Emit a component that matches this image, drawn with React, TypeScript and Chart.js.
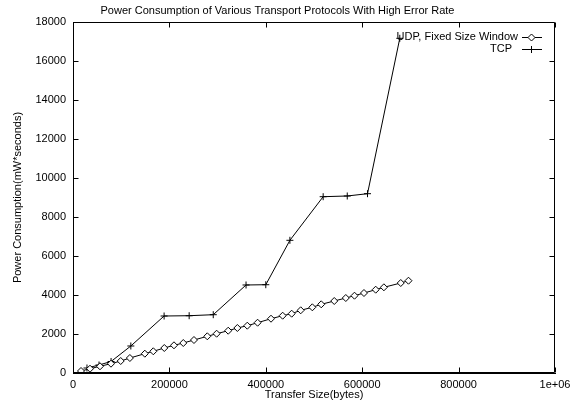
import React, { useEffect, useRef } from "react";
import { Chart, registerables } from "chart.js";

Chart.register(...registerables);

const chartTitle = "Power Consumption of Various Transport Protocols With High Error Rate";
const xAxisTitle = "Transfer Size(bytes)";
const yAxisTitle = "Power Consumption(mW*seconds)";

const udpLabel = "UDP, Fixed Size Window";
const udpX = [16600, 35300, 56000, 78800, 99000, 118000, 149000, 166600, 189400, 209500, 228800, 251000, 278600, 298000, 322000, 341000, 361600, 383000, 410800, 435000, 453700, 472400, 496500, 515000, 542000, 566000, 584000, 603700, 628000, 645000, 680000, 696000];
const udpY = [103, 220, 344, 477, 615, 769, 990, 1113, 1282, 1420, 1538, 1692, 1882, 2015, 2169, 2308, 2426, 2579, 2784, 2938, 3041, 3215, 3369, 3523, 3692, 3846, 3964, 4102, 4272, 4395, 4615, 4733];

const tcpLabel = "TCP";
const tcpX = [29000, 54000, 79000, 120000, 189000, 241000, 291000, 359000, 400000, 450000, 519000, 569000, 611000, 678000];
const tcpY = [256, 410, 590, 1385, 2923, 2938, 2990, 4513, 4528, 6805, 9041, 9077, 9195, 17164];

const xTicks = [0, 200000, 400000, 600000, 800000, 1000000];
const xTickLabels = ["0", "200000", "400000", "600000", "800000", "1e+06"];
const yTicks = [0, 2000, 4000, 6000, 8000, 10000, 12000, 14000, 16000, 18000];

const FONT = "'Liberation Sans', Arial, Helvetica, sans-serif";

const framePlugin = {
  id: "gnuframe",
  afterDatasetsDraw(chart: any) {
    const ctx = chart.ctx;
    const xs = chart.scales["x"];
    const ys = chart.scales["y"];
    const L = Math.round(xs.left) + 0.5;
    const R = Math.round(xs.right) - 0.5;
    const T = Math.round(ys.top) + 0.5;
    const B = Math.round(ys.bottom) - 0.5;
    const tl = 5;
    ctx.save();
    ctx.strokeStyle = "rgb(0,0,0)";
    ctx.lineWidth = 1;
    ctx.beginPath();
    ctx.moveTo(L, T);
    ctx.lineTo(R, T);
    ctx.lineTo(R, B);
    ctx.lineTo(L, B);
    ctx.closePath();
    xTicks.forEach((v) => {
      const px = Math.round(xs.getPixelForValue(v)) + 0.5;
      ctx.moveTo(px, B);
      ctx.lineTo(px, B - tl);
      ctx.moveTo(px, T);
      ctx.lineTo(px, T + tl);
    });
    yTicks.forEach((v) => {
      const py = Math.round(ys.getPixelForValue(v)) + 0.5;
      ctx.moveTo(L, py);
      ctx.lineTo(L + tl, py);
      ctx.moveTo(R, py);
      ctx.lineTo(R - tl, py);
    });
    ctx.stroke();

    ctx.font = `11px ${FONT}`;
    ctx.textAlign = "right";
    ctx.textBaseline = "middle";
    const entries = [
      { label: chart.data.datasets[0].label, y: 37, textRight: 518, style: "rectRot" },
      { label: chart.data.datasets[1].label, y: 49, textRight: 512, style: "cross" },
    ];
    entries.forEach((e) => {
      ctx.fillStyle = "#000";
      ctx.fillText(e.label, e.textRight, e.y);
      const cy = e.y + 0.5;
      const cx = 531.5;
      ctx.beginPath();
      ctx.moveTo(522, cy);
      ctx.lineTo(542, cy);
      ctx.stroke();
      if (e.style === "rectRot") {
        ctx.beginPath();
        ctx.moveTo(cx, cy - 3.5);
        ctx.lineTo(cx + 3.5, cy);
        ctx.lineTo(cx, cy + 3.5);
        ctx.lineTo(cx - 3.5, cy);
        ctx.closePath();
        ctx.fillStyle = "#fff";
        ctx.fill();
        ctx.stroke();
      } else {
        ctx.beginPath();
        ctx.moveTo(cx, cy - 3.5);
        ctx.lineTo(cx, cy + 3.5);
        ctx.stroke();
      }
    });
    ctx.restore();
  },
};

export default function App() {
  const ref = useRef<HTMLCanvasElement | null>(null);

  useEffect(() => {
    document.body.style.margin = "0";
    const canvas = ref.current;
    if (!canvas) return;
    const chart = new Chart(canvas, {
      type: "scatter",
      data: {
        datasets: [
          {
            label: udpLabel,
            data: udpX.map((x, i) => ({ x, y: udpY[i] })),
            showLine: true,
            borderColor: "#000",
            borderWidth: 1,
            pointStyle: "rectRot",
            pointRadius: 3.5,
            pointBackgroundColor: "#fff",
            pointBorderColor: "#000",
            pointBorderWidth: 1,
          },
          {
            label: tcpLabel,
            data: tcpX.map((x, i) => ({ x, y: tcpY[i] })),
            showLine: true,
            borderColor: "#000",
            borderWidth: 1,
            pointStyle: "cross",
            pointRadius: 3.5,
            pointBorderColor: "#000",
            pointBorderWidth: 1,
          },
        ],
      },
      options: {
        animation: false,
        responsive: false,
        devicePixelRatio: 1,
        layout: { padding: { left: 0, right: 22, top: 0, bottom: 0 } },
        plugins: {
          legend: { display: false },
          tooltip: { enabled: false },
          title: {
            display: true,
            text: chartTitle,
            color: "#000",
            font: { family: FONT, size: 11, weight: "normal", lineHeight: 1.2 },
            padding: { top: 4, bottom: 4.8 },
          },
        },
        scales: {
          x: {
            type: "linear",
            min: 0,
            max: 1000000,
            afterFit: (s: any) => {
              s.height = 29;
            },
            afterBuildTicks: (s: any) => {
              s.ticks = xTicks.map((v) => ({ value: v }));
            },
            grid: { display: false, drawTicks: false },
            border: { display: true, color: "#000", width: 1 },
            ticks: {
              color: "#000",
              font: { family: FONT, size: 11 },
              padding: 5,
              maxRotation: 0,
              autoSkip: false,
              callback: (v: any) => {
                const i = xTicks.indexOf(Number(v));
                return i >= 0 ? xTickLabels[i] : "";
              },
            },
            title: {
              display: true,
              text: xAxisTitle,
              color: "#000",
              font: { family: FONT, size: 11, lineHeight: 1.2 },
              padding: { top: 0, bottom: 0 },
            },
          },
          y: {
            type: "linear",
            min: 0,
            max: 18000,
            afterFit: (s: any) => {
              s.width = 73;
            },
            afterBuildTicks: (s: any) => {
              s.ticks = yTicks.map((v) => ({ value: v }));
            },
            grid: { display: false, drawTicks: false },
            border: { display: true, color: "#000", width: 1 },
            ticks: {
              color: "#000",
              font: { family: FONT, size: 11 },
              padding: 7,
              autoSkip: false,
              callback: (v: any) => String(v),
            },
            title: {
              display: true,
              text: yAxisTitle,
              color: "#000",
              font: { family: FONT, size: 11, lineHeight: 1.2 },
              padding: { top: 11, bottom: 0 },
            },
          },
        },
      },
      plugins: [framePlugin],
    });
    return () => chart.destroy();
  }, []);

  return (
    <div style={{ position: "absolute", left: 0, top: 0, width: 577, height: 402, background: "#fff" }}>
      <canvas ref={ref} width={577} height={402} style={{ width: 577, height: 402, display: "block" }} />
    </div>
  );
}
